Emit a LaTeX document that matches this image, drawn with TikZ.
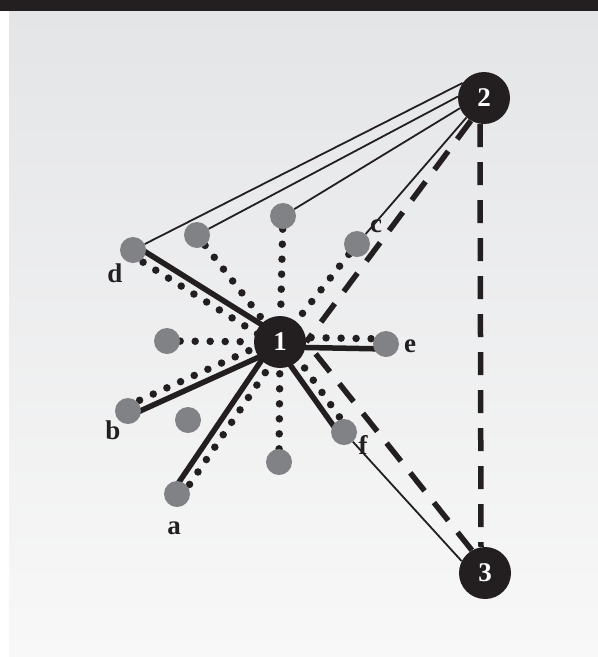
\documentclass[tikz,border=0pt]{standalone}
\usepackage{fontspec}
\setmainfont{Liberation Serif}
\usepackage{tikz}
\usetikzlibrary{calc,backgrounds}

\definecolor{inkblack}{HTML}{231F20}
\definecolor{leafgray}{HTML}{808285}
\definecolor{bgtop}{HTML}{E4E5E7}
\definecolor{bgbot}{HTML}{F8F8F8}

\tikzset{
  hub/.style={circle,fill=inkblack,text=white,minimum size=52pt,inner sep=0pt,
    font=\fontsize{27}{27}\selectfont\bfseries},
  leaf/.style={circle,fill=leafgray,minimum size=26pt,inner sep=0pt},
  lbl/.style={inner sep=0pt,text=inkblack,font=\fontsize{27}{27}\selectfont\bfseries},
  tieline/.style={draw=inkblack,line width=1.8pt},
  thickline/.style={draw=inkblack,line width=5.5pt},
  dotline/.style={draw=inkblack,line width=7.5pt,line cap=round,dash pattern=on 0pt off 15pt},
  dashline/.style={draw=inkblack,line width=5.5pt,dash pattern=on 23pt off 15pt}
}

\begin{document}
\begin{tikzpicture}[x=1pt,y=-1pt]
  \useasboundingbox (0,0) rectangle (598,657);

  % big nodes
  \node[hub] (n1) at (280,342) {1};
  \node[hub] (n2) at (484,98) {2};
  \node[hub] (n3) at (485,573) {3};

  % small nodes
  \node[leaf] (d) at (133,250) {};
  \node[leaf] (upl) at (197,235) {};
  \node[leaf] (up) at (283,216) {};
  \node[leaf] (c) at (357,244) {};
  \node[leaf] (lf) at (167,341) {};
  \node[leaf] (e) at (386,344) {};
  \node[leaf] (b) at (128,411) {};
  \node[leaf] (lo) at (188,420) {};
  \node[leaf] (f) at (344,432) {};
  \node[leaf] (dn) at (279,462) {};
  \node[leaf] (a) at (177,494) {};

  % labels
  \node[lbl] (d-l) at (115,273) {d};
  \node[lbl] (c-l) at (376,226) {c};
  \node[lbl] (e-l) at (410,346) {e};
  \node[lbl] (b-l) at (113,430) {b};
  \node[lbl] (f-l) at (363,445) {f};
  \node[lbl] (a-l) at (174,528) {a};

  \begin{scope}[on background layer]
    \fill[white] (0,0) rectangle (598,657);
    \shade[top color=bgtop,bottom color=bgbot] (9,11) rectangle (598,657);
    \fill[inkblack] (0,0) rectangle (598,11);

    % thin ties
    \draw[tieline] (d) -- (n2.145);
    \draw[tieline] (upl) -- (n2.177);
    \draw[tieline] (up) -- (n2.203);
    \draw[tieline] (c) -- (n2.228);
    \draw[tieline] (f) -- (n3.153);

    % dashed
    \draw[dashline] (n2.240) -- (n1.east);
    \draw[dashline] (n3.120) -- (n1.east);
    \draw[dashline] ([xshift=-4pt]n2.south) -- ([xshift=-4pt]n3.north);

    % dotted only
    \foreach \p in {upl,up,c,lf,dn}
      \draw[dotline] (\p) -- (n1);

    % solid with dotted beside
    \foreach \p/\s/\t in {d/5/-5,a/5/-5,e/5/-5,f/5/-5,b/-5/5} {
      \draw[dotline] ($(\p)!\t pt!90:(n1)$) -- ($(n1)!\t pt!-90:(\p)$);
      \draw[thickline] ($(\p)!\s pt!90:(n1)$) -- ($(n1)!\s pt!-90:(\p)$);
    }
  \end{scope}
\end{tikzpicture}
\end{document}
